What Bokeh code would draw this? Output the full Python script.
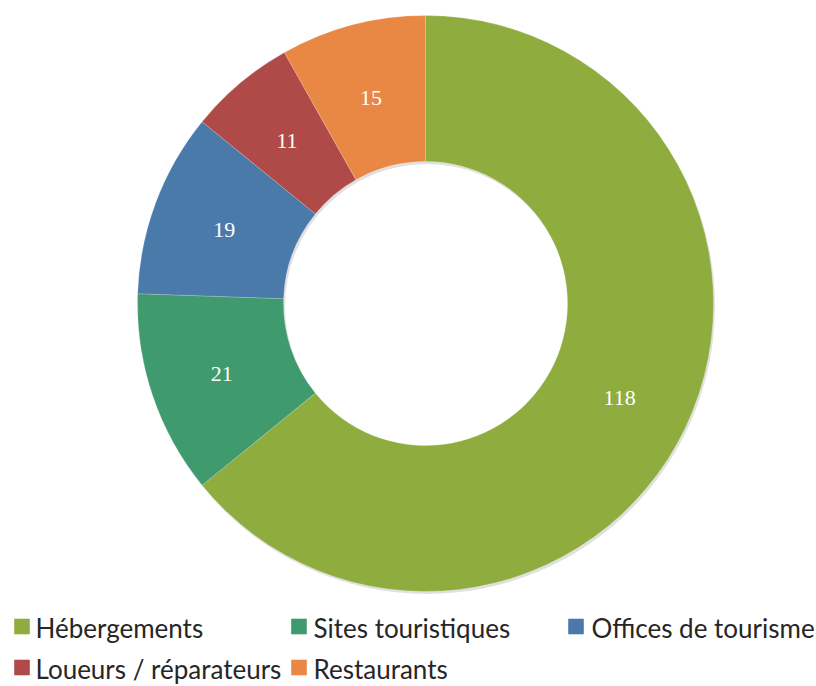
import numpy as np
from bokeh.plotting import figure
from bokeh.models import Range1d, ColumnDataSource
from bokeh.core.properties import value
from bokeh.embed import file_html
from bokeh.resources import INLINE

categories = ["Hébergements", "Sites touristiques", "Offices de tourisme",
              "Loueurs / réparateurs", "Restaurants"]
counts = [118, 21, 19, 11, 15]
colors = ["#8fad3f", "#3f9a6e", "#4a7aaa", "#b04a48", "#e98844"]

W, H = 816, 686
p = figure(width=W, height=H, output_backend="svg", toolbar_location=None,
           x_range=Range1d(0, W), y_range=Range1d(0, H), min_border=0)
p.axis.visible = False
p.grid.visible = False
p.outline_line_color = None

cx, cy = 425, H - 303
r_out, r_in = 288, 142

vals = np.array(counts, dtype=float)
frac = vals / vals.sum()
ends = np.cumsum(frac)
starts = ends - frac
start_ang = np.pi / 2 - starts * 2 * np.pi
end_ang = np.pi / 2 - ends * 2 * np.pi
mid = (starts + ends) / 2
r_mid = (r_out + r_in) / 2
lx = cx + r_mid * np.sin(mid * 2 * np.pi)
ly = cy + r_mid * np.cos(mid * 2 * np.pi) - 2

src = ColumnDataSource(dict(start=start_ang, end=end_ang, color=colors,
                            lx=lx, ly=ly, lab=[str(c) for c in counts]))

# soft shadow
p.annulus(x=cx + 1.5, y=cy - 2.5, inner_radius=r_in, outer_radius=r_out,
          fill_color="#000000", fill_alpha=0.12, line_color=None)
p.annular_wedge(x=cx, y=cy, inner_radius=r_in, outer_radius=r_out,
                start_angle="start", end_angle="end", direction="clock",
                fill_color="color", line_color="#ffffff", line_alpha=0.25,
                line_width=0.8, source=src)
p.text(x="lx", y="ly", text="lab", source=src, text_color="white",
       text_font=value("Liberation Serif"), text_font_size="22px",
       text_align="center", text_baseline="middle")

# legend
leg_sq_x = [14, 291, 568, 14, 291]
leg_tx_x = [35, 313, 591, 35, 313]
leg_cy = [H - 627, H - 627, H - 627, H - 668, H - 668]
sq = 15
p.rect(x=[x + sq / 2 for x in leg_sq_x], y=[c + 1 for c in leg_cy],
       width=sq, height=sq, fill_color=colors, line_color=colors,
       line_alpha=0.6)
p.text(x=leg_tx_x, y=leg_cy, text=categories, text_color="#262626",
       text_font=value("Lato"), text_font_size="26px",
       text_align="left", text_baseline="middle")

open("out.html", "w").write(file_html(p, INLINE))
